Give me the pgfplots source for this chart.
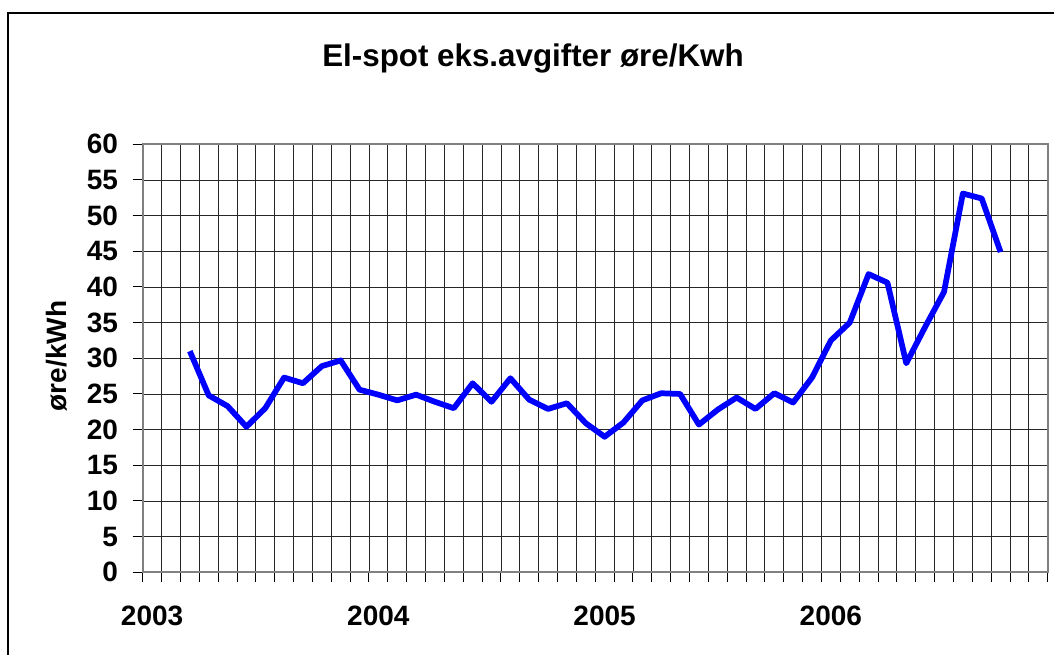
\documentclass[border=0pt]{standalone}
\usepackage{fontspec}
\setmainfont{Liberation Sans}
\usepackage{pgfplots}
\pgfplotsset{compat=1.18}
\begin{document}
\begin{tikzpicture}[x=0.75pt,y=0.75pt]
\useasboundingbox (0,0) rectangle (1054,655);
\draw[line width=1.5pt] (8,0) -- (8,642) -- (1054,642);
\node[font=\fontsize{23.5}{23.5}\selectfont\bfseries] at (533,597) {El-spot eks.avgifter øre/Kwh};
\node[font=\fontsize{21}{21}\selectfont\bfseries, rotate=90] at (57,299) {øre/kWh};
\begin{axis}[
  at={(107.025pt,62.025pt)}, anchor=south west,
  scale only axis, width=678.75pt, height=321pt,
  xmin=0, xmax=48, ymin=0, ymax=60,
  xtick={0,...,48}, xticklabels={},
  ytick={0,5,...,60},
  extra x ticks={0.5,12.5,24.5,36.5},
  extra x tick labels={2003,2004,2005,2006},
  extra x tick style={grid=none, major tick length=0pt,
     xticklabel style={yshift=-22pt}},
  tick pos=left,
  tick align=outside,
  major tick length=7.5pt,
  grid=major,
  major grid style={black!85, line width=0.6pt},
  every tick/.style={black, line width=0.7pt},
  axis line style={draw=gray, line width=1.6pt},
  ticklabel style={font=\fontsize{21}{21}\selectfont\bfseries},
  /pgf/number format/assume math mode=true,
  yticklabel style={xshift=-7.5pt},
  clip=false,
]
\addplot[blue, line width=4.3pt, line join=round] coordinates {
(2.5,31.0) (3.5,24.8) (4.5,23.3) (5.5,20.4) (6.5,23.0) (7.5,27.3)
(8.5,26.5) (9.5,28.9) (10.5,29.7) (11.5,25.6) (12.5,24.9) (13.5,24.1)
(14.5,24.9) (15.5,23.9) (16.5,23.0) (17.5,26.5) (18.5,23.9) (19.5,27.2)
(20.5,24.2) (21.5,22.9) (22.5,23.7) (23.5,20.9) (24.5,19.0) (25.5,21.0)
(26.5,24.1) (27.5,25.1) (28.5,25.0) (29.5,20.7) (30.5,22.8) (31.5,24.5)
(32.5,22.9) (33.5,25.1) (34.5,23.8) (35.5,27.3) (36.5,32.5) (37.5,35.0)
(38.5,41.8) (39.5,40.6) (40.5,29.3) (41.5,34.4) (42.5,39.3) (43.5,53.1)
(44.5,52.4) (45.5,44.9)
};
\end{axis}
\end{tikzpicture}
\end{document}
